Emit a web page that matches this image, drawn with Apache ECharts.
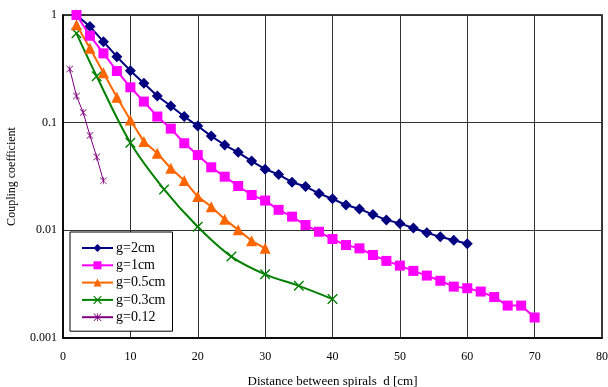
<!DOCTYPE html>
<html>
<head>
<meta charset="utf-8">
<script src="https://cdn.jsdelivr.net/npm/echarts@6/dist/echarts.min.js"></script>
<style>
  html, body { margin: 0; padding: 0; background: #fff; }
  #chart { width: 608px; height: 387px; }
</style>
</head>
<body>
<div id="chart"></div>
<script>
// Coupling coefficient versus spiral separation d [cm], for several gaps g
const seriesNames = ['g=2cm', 'g=1cm', 'g=0.5cm', 'g=0.3cm', 'g=0.12'];

const dG2 = [2, 4, 6, 8, 10, 12, 14, 16, 18, 20, 22, 24, 26, 28, 30, 32, 34, 36, 38, 40,
             42, 44, 46, 48, 50, 52, 54, 56, 58, 60];
const kG2 = [1.0, 0.78, 0.565, 0.41, 0.304, 0.232, 0.177, 0.143, 0.114, 0.093,
             0.075, 0.062, 0.053, 0.044, 0.037, 0.033, 0.028, 0.0255, 0.022, 0.0196,
             0.0172, 0.0158, 0.014, 0.0125, 0.0116, 0.0105, 0.0095, 0.0087, 0.0081, 0.0075];

const dG1 = [2, 4, 6, 8, 10, 12, 14, 16, 18, 20, 22, 24, 26, 28, 30, 32, 34, 36, 38, 40,
             42, 44, 46, 48, 50, 52, 54, 56, 58, 60, 62, 64, 66, 68, 70];
const kG1 = [1.0, 0.642, 0.44, 0.302, 0.213, 0.157, 0.114, 0.088, 0.0644, 0.050,
             0.0385, 0.0315, 0.0258, 0.0213, 0.0189, 0.0155, 0.0134, 0.0112, 0.0097, 0.0083,
             0.0073, 0.0068, 0.0059, 0.0052, 0.0047, 0.0042, 0.0038, 0.0034, 0.0030, 0.0029,
             0.0027, 0.0024, 0.0020, 0.0020, 0.00155];

const dG05 = [2, 4, 6, 8, 10, 12, 14, 16, 18, 20, 22, 24, 26, 28, 30];
const kG05 = [0.81, 0.49, 0.291, 0.172, 0.106, 0.0667, 0.052, 0.0377, 0.029, 0.0206,
              0.0166, 0.0127, 0.0101, 0.0080, 0.0068];

const dG03 = [2, 5, 10, 15, 20, 25, 30, 35, 40];
const kG03 = [0.676, 0.27, 0.065, 0.024, 0.0108, 0.0057, 0.0039, 0.00305, 0.0023];

const dG012 = [1, 2, 3, 4, 5, 6];
const kG012 = [0.315, 0.177, 0.124, 0.076, 0.048, 0.0288];

const xTicks = [0, 10, 20, 30, 40, 50, 60, 70, 80];
const yTicks = [0.001, 0.01, 0.1, 1];

const pairs = (xs, ys) => xs.map((x, i) => [x, ys[i]]);

// Thin X cross and asterisk marker shapes
const crossPath = 'path://M0,0L1,0L5,4L9,0L10,0L10,1L6,5L10,9L10,10L9,10L5,6L1,10L0,10L0,9L4,5L0,1Z';
const starPath = 'path://M4.5,0H5.5V10H4.5Z M0,0.7L0.7,0L10,9.3L9.3,10Z M9.3,0L10,0.7L0.7,10L0,9.3Z';

const serif = '"Liberation Serif", "DejaVu Serif", serif';

const chart = echarts.init(document.getElementById('chart'), null, { renderer: 'canvas' });

chart.setOption({
  animation: false,
  backgroundColor: '#ffffff',
  textStyle: { fontFamily: serif },
  grid: {
    left: 63, right: 6, top: 15, bottom: 49,
    containLabel: false, outerBoundsMode: 'none',
    show: true, borderColor: '#000', borderWidth: 1.5
  },
  xAxis: {
    type: 'value',
    min: xTicks[0],
    max: xTicks[xTicks.length - 1],
    interval: 10,
    name: 'Distance between spirals  d [cm]',
    nameLocation: 'middle',
    nameGap: 37,
    nameTextStyle: { fontFamily: serif, fontSize: 13, color: '#000' },
    axisLine: { lineStyle: { color: '#000', width: 1.5 } },
    axisTick: { show: false },
    axisLabel: { fontFamily: serif, fontSize: 12, color: '#000', margin: 13 },
    splitLine: { show: true, lineStyle: { color: '#333', width: 1 } }
  },
  yAxis: {
    type: 'log',
    logBase: 10,
    min: yTicks[0],
    max: yTicks[yTicks.length - 1],
    name: 'Coupling coefficient',
    nameLocation: 'middle',
    nameGap: 45,
    nameRotate: 90,
    nameTextStyle: { fontFamily: serif, fontSize: 12, color: '#000' },
    axisLine: { show: true, lineStyle: { color: '#000', width: 1.5 } },
    axisTick: { show: false },
    minorTick: { show: false },
    axisLabel: {
      fontFamily: serif, fontSize: 12, color: '#000', margin: 6,
      formatter: v => {
        const s = yTicks.find(t => Math.abs(Math.log10(t) - Math.log10(v)) < 1e-6);
        return s !== undefined ? String(s) : '';
      }
    },
    splitLine: { show: true, lineStyle: { color: '#333', width: 1 } }
  },
  legend: {
    orient: 'vertical',
    left: 70,
    top: 232,
    backgroundColor: '#fff',
    borderColor: '#000',
    borderWidth: 1,
    borderRadius: 0,
    padding: [9, 7, 7, 11],
    itemWidth: 31,
    itemHeight: 10,
    itemGap: 3.3,
    textStyle: { fontFamily: serif, fontSize: 14, color: '#000', padding: [0, 0, 0, -2] },
    data: seriesNames
  },
  series: [
    {
      name: seriesNames[0], type: 'line', data: pairs(dG2, kG2),
      symbol: 'diamond', symbolSize: 11,
      lineStyle: { color: '#000080', width: 2 },
      itemStyle: { color: '#000080' }, z: 5
    },
    {
      name: seriesNames[1], type: 'line', data: pairs(dG1, kG1),
      symbol: 'rect', symbolSize: 10,
      lineStyle: { color: '#ff00ff', width: 2 },
      itemStyle: { color: '#ff00ff' }, z: 6
    },
    {
      name: seriesNames[2], type: 'line', data: pairs(dG05, kG05),
      symbol: 'triangle', symbolSize: 11,
      lineStyle: { color: '#ff6600', width: 2 },
      itemStyle: { color: '#ff6600' }, z: 4
    },
    {
      name: seriesNames[3], type: 'line', data: pairs(dG03, kG03),
      symbol: crossPath, symbolSize: 10, smooth: 0.35,
      lineStyle: { color: '#008000', width: 2 },
      itemStyle: { color: '#008000' }, z: 3
    },
    {
      name: seriesNames[4], type: 'line', data: pairs(dG012, kG012),
      symbol: starPath, symbolSize: 7,
      lineStyle: { color: '#800080', width: 1 },
      itemStyle: { color: '#800080' }, z: 3
    }
  ]
});
</script>
</body>
</html>
